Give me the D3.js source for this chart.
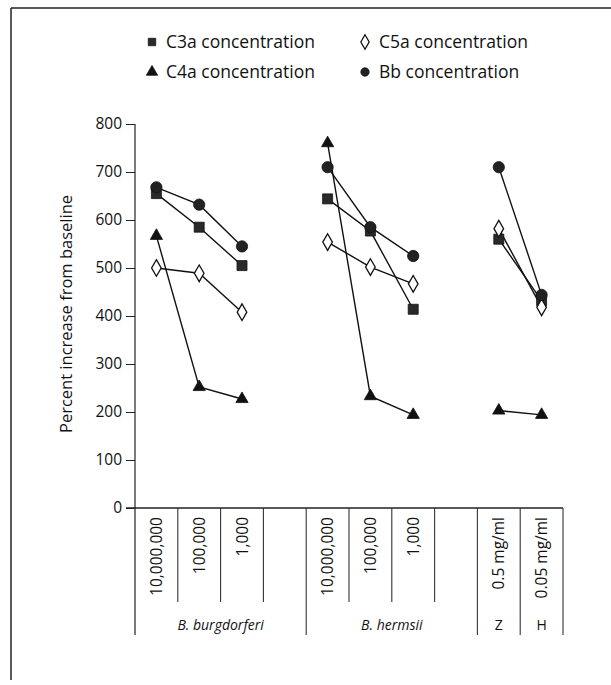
<!DOCTYPE html>
<html>
<head>
<meta charset="utf-8">
<script src="https://cdn.jsdelivr.net/npm/d3@7"></script>
<style>
  body { margin: 0; background: #fff; }
  text { font-family: "Open Sans", "Noto Sans", sans-serif; fill: #111; }
</style>
</head>
<body>
<div id="chart"></div>
<script>
// data
var slots = ["bb1", "bb2", "bb3", "gap1", "bh1", "bh2", "bh3", "gap2", "z", "h"];
var tickLabels = ["10,000,000", "100,000", "1,000", "", "10,000,000", "100,000", "1,000", "", "0.5 mg/ml", "0.05 mg/ml"];
var groups = [
    { name: "B. burgdorferi", from: "bb1", to: "gap1", italic: true },
    { name: "B. hermsii", from: "bh1", to: "gap2", italic: true },
    { name: "Z", from: "z", to: "z", italic: false },
    { name: "H", from: "h", to: "h", italic: false }
];
var segments = [["bb1", "bb2", "bb3"], ["bh1", "bh2", "bh3"], ["z", "h"]];

var c3a = [655, 585, 505, null, 644, 577, 414, null, 560, 432];
var c5a = [500, 489, 408, null, 554, 502, 467, null, 582, 418];
var c4a = [567, 252, 227, null, 760, 233, 194, null, 203, 194];
var bb  = [668, 632, 545, null, 710, 585, 525, null, 710, 444];

var yTicks = [0, 100, 200, 300, 400, 500, 600, 700, 800];

var series = [
    { name: "C3a concentration", values: c3a, shape: d3.symbolSquare, size: 100, fill: "#2a2a2a" },
    { name: "C5a concentration", values: c5a, shape: d3.symbolDiamond, size: 80, fill: "#fff" },
    { name: "C4a concentration", values: c4a, shape: d3.symbolTriangle, size: 65, fill: "#111" },
    { name: "Bb concentration", values: bb, shape: d3.symbolCircle, size: 100, fill: "#222" }
];

var svgWidth = 611;
var svgHeight = 685;
var margin = { top: 124, left: 135 };
var width = 428;
var height = 384;

var svg = d3.select("#chart")
    .append("svg")
    .attr("width", svgWidth)
    .attr("height", svgHeight);

// scanned frame (top and left edges)
svg.append("line").attr("x1", 11).attr("x2", 611).attr("y1", 8).attr("y2", 8)
    .attr("stroke", "#222").attr("stroke-width", 1.5);
svg.append("line").attr("x1", 11).attr("x2", 11).attr("y1", 8).attr("y2", 680)
    .attr("stroke", "#222").attr("stroke-width", 1.5);

var chartGroup = svg.append("g")
    .attr("transform", `translate(${margin.left}, ${margin.top})`);

var x = d3.scaleBand().domain(slots).range([0, width]);
var y = d3.scaleLinear().domain([0, 800]).range([height, 0]);

// y axis
var leftAxis = d3.axisLeft(y).tickValues(yTicks).tickSize(9).tickPadding(4);
var yAxis = chartGroup.append("g").call(leftAxis);
yAxis.select(".domain").remove();
yAxis.selectAll("text").style("font-size", "15.5px").attr("fill", "#111");
yAxis.selectAll("line").attr("stroke", "#222");

chartGroup.append("line")
    .attr("x1", 0).attr("x2", 0)
    .attr("y1", 0).attr("y2", height + 127)
    .attr("stroke", "#222").attr("stroke-width", 1.2);

// x axis baseline
chartGroup.append("line")
    .attr("x1", -9).attr("x2", width)
    .attr("y1", height).attr("y2", height)
    .attr("stroke", "#222").attr("stroke-width", 1.4);

// category dividers below axis
var groupEnds = ["gap1", "gap2", "z", "h"];
slots.forEach(function (s) {
    var xr = x(s) + x.bandwidth();
    var isGroupEdge = groupEnds.indexOf(s) >= 0;
    chartGroup.append("line")
        .attr("x1", xr).attr("x2", xr)
        .attr("y1", height).attr("y2", height + (isGroupEdge ? 127 : 94))
        .attr("stroke", "#333").attr("stroke-width", 1.1);
});

// rotated tick labels
chartGroup.selectAll(".xlab")
    .data(slots.filter((s, i) => tickLabels[i] !== ""))
    .enter()
    .append("text")
    .attr("class", "xlab")
    .attr("transform", d => `translate(${x(d) + x.bandwidth() / 2 + 5.5}, ${height + 9}) rotate(-90)`)
    .attr("text-anchor", "end")
    .style("font-size", "15.5px")
    .text(d => tickLabels[slots.indexOf(d)]);

// group labels
chartGroup.selectAll(".glab")
    .data(groups)
    .enter()
    .append("text")
    .attr("class", "glab")
    .attr("x", d => (x(d.from) + x(d.to) + x.bandwidth()) / 2)
    .attr("y", height + 122)
    .attr("text-anchor", "middle")
    .style("font-size", "14px")
    .style("font-style", d => d.italic ? "italic" : "normal")
    .text(d => d.name);

// y axis label
chartGroup.append("text")
    .attr("transform", "rotate(-90)")
    .attr("x", -height / 2 + 2)
    .attr("y", -63)
    .attr("text-anchor", "middle")
    .style("font-size", "16.5px")
    .text("Percent increase from baseline");

// lines
var line = d3.line()
    .x(d => x(d.slot) + x.bandwidth() / 2)
    .y(d => y(d.value));

series.forEach(function (s) {
    segments.forEach(function (seg) {
        var pts = seg.map(sl => ({ slot: sl, value: s.values[slots.indexOf(sl)] }));
        chartGroup.append("path")
            .datum(pts)
            .attr("d", line)
            .attr("fill", "none")
            .attr("stroke", "#111")
            .attr("stroke-width", 1.4);
    });
});

// markers
series.forEach(function (s) {
    var pts = slots.map((sl, i) => ({ slot: sl, value: s.values[i] })).filter(d => d.value !== null);
    chartGroup.selectAll(null)
        .data(pts)
        .enter()
        .append("path")
        .attr("d", d3.symbol().type(s.shape).size(s.size))
        .attr("transform", d => `translate(${x(d.slot) + x.bandwidth() / 2}, ${y(d.value)})`)
        .attr("fill", s.fill)
        .attr("stroke", "#111")
        .attr("stroke-width", s.shape === d3.symbolDiamond ? 1.3 : 0.8);
});

// legend
var legendPos = [[152, 42], [365, 42], [152, 72], [365, 72]];
series.forEach(function (s, i) {
    var g = svg.append("g").attr("transform", `translate(${legendPos[i][0]}, ${legendPos[i][1]})`);
    g.append("path")
        .attr("d", d3.symbol().type(s.shape).size(s.shape === d3.symbolDiamond ? 60 : 55))
        .attr("fill", s.fill)
        .attr("stroke", "#111")
        .attr("stroke-width", s.shape === d3.symbolDiamond ? 1.3 : 0.8);
    g.append("text")
        .attr("x", 14)
        .attr("y", 6)
        .style("font-size", "17.5px")
        .text(s.name);
});
</script>
</body>
</html>
